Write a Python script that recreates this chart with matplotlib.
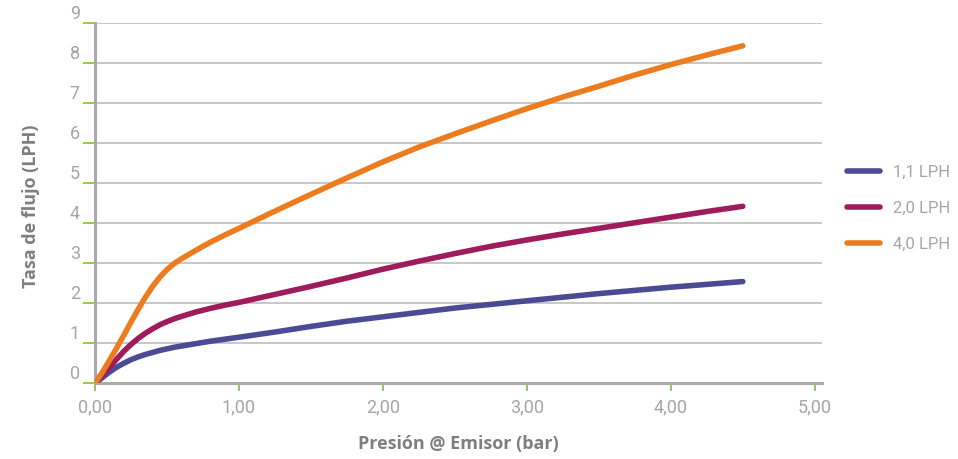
import matplotlib
matplotlib.use("Agg")
import matplotlib.pyplot as plt
from matplotlib import font_manager

# ---- data ----
pressure = [0.0, 0.05, 0.1, 0.15, 0.2, 0.25, 0.3, 0.35, 0.4, 0.45, 0.5, 0.55, 0.6, 0.7, 0.8, 0.9,
            1.0, 1.25, 1.5, 1.75, 2.0, 2.25, 2.5, 2.75, 3.0, 3.25, 3.5, 3.75, 4.0, 4.25, 4.5]
flow_11 = [0.0, 0.14, 0.28, 0.40, 0.50, 0.59, 0.66, 0.72, 0.77, 0.82, 0.86, 0.90, 0.93, 0.99, 1.05, 1.10,
           1.15, 1.28, 1.42, 1.55, 1.66, 1.77, 1.88, 1.97, 2.06, 2.15, 2.24, 2.32, 2.40, 2.47, 2.54]
flow_20 = [0.0, 0.20, 0.40, 0.60, 0.80, 0.97, 1.12, 1.25, 1.36, 1.46, 1.54, 1.61, 1.67, 1.78, 1.87, 1.95,
           2.02, 2.22, 2.42, 2.63, 2.85, 3.05, 3.24, 3.42, 3.58, 3.73, 3.87, 4.01, 4.15, 4.29, 4.42]
flow_40 = [0.0, 0.27, 0.57, 0.88, 1.20, 1.53, 1.85, 2.15, 2.42, 2.65, 2.84, 2.99, 3.11, 3.32, 3.52, 3.70,
           3.87, 4.30, 4.72, 5.13, 5.53, 5.90, 6.23, 6.55, 6.86, 7.15, 7.42, 7.70, 7.96, 8.20, 8.43]
series_labels = ["1,1 LPH", "2,0 LPH", "4,0 LPH"]
x_ticks = [0, 1, 2, 3, 4, 5]
x_ticklabels = ["0,00", "1,00", "2,00", "3,00", "4,00", "5,00"]
y_ticks = list(range(0, 10))

colors = ["#4a4b94", "#9e1b5c", "#ec7c1e"]

names = {f.name for f in font_manager.fontManager.ttflist}
tick_font = "Liberation Sans Narrow" if "Liberation Sans Narrow" in names else "Roboto"

fig = plt.figure(figsize=(9.58, 4.59), dpi=100)
ax = fig.add_axes([0.0992, 0.165, 0.7588, 0.785])

for ys, c, lab in zip([flow_11, flow_20, flow_40], colors, series_labels):
    ax.plot(pressure, ys, color=c, lw=4, solid_capstyle="round",
            solid_joinstyle="round", label=lab, zorder=3)

ax.set_xlim(0, 5.05)
ax.set_ylim(0, 9)
ax.set_xticks(x_ticks)
ax.set_xticklabels(x_ticklabels)
ax.set_yticks(y_ticks)

ax.yaxis.grid(True, color="#bdbdbd", lw=1.2)
ax.set_axisbelow(True)
for s in ["top", "right"]:
    ax.spines[s].set_visible(False)
for s in ["left", "bottom"]:
    ax.spines[s].set_color("#aaaaaa")
    ax.spines[s].set_linewidth(2.2)

ax.tick_params(axis="y", colors="#8dc63f", length=9, width=1.3, pad=2,
               labelcolor="#a6a6a6", labelsize=13)
ax.tick_params(axis="x", colors="#8dc63f", length=6, width=1.3, pad=5,
               labelcolor="#a6a6a6", labelsize=13)
for t in ax.get_yticklabels():
    t.set_fontfamily(tick_font)
    t.set_verticalalignment("bottom")
for t in ax.get_xticklabels():
    t.set_fontfamily(tick_font)

ax.set_xlabel("Presión @ Emisor (bar)", fontsize=13, fontweight="bold",
              color="#7f7f7f", labelpad=13, fontfamily="Open Sans")
ax.set_ylabel("Tasa de flujo (LPH)", fontsize=13, fontweight="bold",
              color="#7f7f7f", fontfamily="Open Sans")
ax.yaxis.set_label_coords(-0.076, 0.49)

leg = ax.legend(loc="center left", bbox_to_anchor=(1.03, 0.485), frameon=False,
                handlelength=2.0, handletextpad=0.75, labelspacing=1.25,
                borderaxespad=0.0, borderpad=0.2,
                prop={"family": tick_font, "size": 12})
for t in leg.get_texts():
    t.set_color("#a6a6a6")
for h in leg.get_lines():
    h.set_linewidth(4)
    h.set_solid_capstyle("round")

fig.savefig("out.png", dpi=100)
